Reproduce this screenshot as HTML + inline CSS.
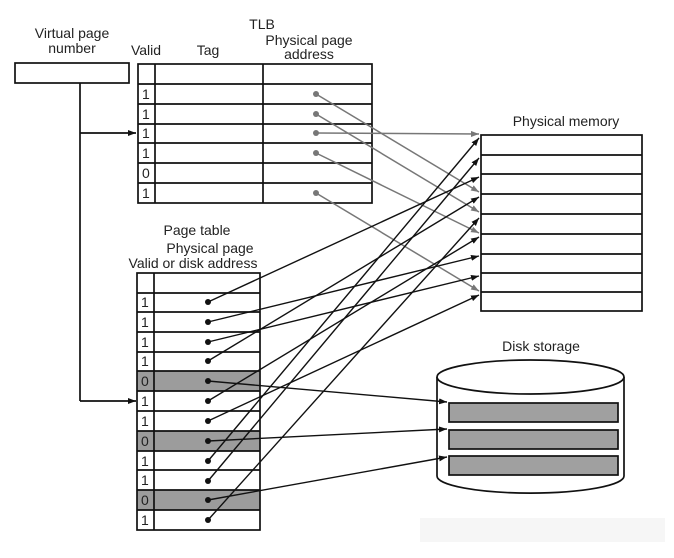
<!DOCTYPE html>
<html><head><meta charset="utf-8"><style>
html,body{margin:0;padding:0;background:#fff;}
svg{display:block;font-family:"Liberation Sans",sans-serif;}
</style></head><body>
<svg width="674" height="558" viewBox="0 0 674 558" xmlns="http://www.w3.org/2000/svg">
<defs>
<marker id="a" markerWidth="8" markerHeight="6" refX="8" refY="3" orient="auto" markerUnits="userSpaceOnUse"><path d="M0,0 L8,3 L0,6 z" fill="#111"/></marker>
<marker id="g" markerWidth="8" markerHeight="6" refX="8" refY="3" orient="auto" markerUnits="userSpaceOnUse"><path d="M0,0 L8,3 L0,6 z" fill="#777"/></marker>
</defs>
<rect x="420" y="518" width="245" height="24" fill="#f6f6f6"/>
<g font-size="14" fill="#222" text-anchor="middle">
<text x="72" y="38">Virtual page</text>
<text x="72" y="53">number</text>
<text x="262" y="29">TLB</text>
<text x="146" y="55">Valid</text>
<text x="208" y="55">Tag</text>
<text x="309" y="45">Physical page</text>
<text x="309" y="59">address</text>
<text x="566" y="126">Physical memory</text>
<text x="197" y="235">Page table</text>
<text x="210" y="253">Physical page</text>
<text x="193" y="268">Valid or disk address</text>
<text x="541" y="351">Disk storage</text>
</g>
<g stroke="#111" stroke-width="1.7" fill="none">
<rect x="15" y="63" width="114" height="20"/>
<path d="M80,83 V401"/>
<path d="M80,133 H136" marker-end="url(#a)"/>
<path d="M80,401 H136" marker-end="url(#a)"/>
<rect x="138" y="64" width="234" height="139"/>
<path d="M155,64 V203 M263,64 V203"/>
<path d="M138,84 H372 M138,104 H372 M138,124 H372 M138,143 H372 M138,163 H372 M138,183 H372"/>
</g>
<g font-size="14" fill="#222">
<text x="142" y="99">1</text><text x="142" y="119">1</text><text x="142" y="138">1</text><text x="142" y="158">1</text><text x="142" y="178">0</text><text x="142" y="198">1</text>
</g>
<g fill="#9c9c9c"><rect x="137" y="371" width="123" height="20"/><rect x="137" y="431" width="123" height="20"/><rect x="137" y="490" width="123" height="20"/></g>
<g stroke="#111" stroke-width="1.7" fill="none">
<rect x="137" y="273" width="123" height="257"/>
<path d="M154,273 V530"/>
<path d="M137,293 H260 M137,312 H260 M137,332 H260 M137,352 H260 M137,371 H260 M137,391 H260 M137,411 H260 M137,431 H260 M137,451 H260 M137,470 H260 M137,490 H260 M137,510 H260"/>
</g>
<g font-size="14" fill="#222">
<text x="141" y="307">1</text><text x="141" y="327">1</text><text x="141" y="347">1</text><text x="141" y="366">1</text><text x="141" y="386">0</text><text x="141" y="406">1</text><text x="141" y="426">1</text><text x="141" y="446">0</text><text x="141" y="466">1</text><text x="141" y="485">1</text><text x="141" y="505">0</text><text x="141" y="525">1</text>
</g>
<g stroke="#111" stroke-width="1.7" fill="none">
<rect x="481" y="135" width="161" height="176"/>
<path d="M481,155 H642 M481,174 H642 M481,194 H642 M481,214 H642 M481,234 H642 M481,254 H642 M481,273 H642 M481,292 H642"/>
</g>
<g stroke="#111" stroke-width="1.7">
<path d="M437,377 V476 A93,17 0 0 0 624,476 V377" fill="#fff"/>
<ellipse cx="530.5" cy="377" rx="93.5" ry="17" fill="#fff"/>
<rect x="449" y="403" width="169" height="19" fill="#a0a0a0"/>
<rect x="449" y="430" width="169" height="19" fill="#a0a0a0"/>
<rect x="449" y="456" width="169" height="19" fill="#a0a0a0"/>
</g>
<g stroke="#777" stroke-width="1.5" fill="none" marker-end="url(#g)">
<path d="M316,94 L479,192"/>
<path d="M316,114 L479,212"/>
<path d="M316,133 L479,134"/>
<path d="M316,153 L479,233"/>
<path d="M316,193 L479,291"/>
</g>
<g fill="#777"><circle cx="316" cy="94" r="3"/><circle cx="316" cy="114" r="3"/><circle cx="316" cy="133" r="3"/><circle cx="316" cy="153" r="3"/><circle cx="316" cy="193" r="3"/></g>
<g stroke="#111" stroke-width="1.4" fill="none" marker-end="url(#a)">
<path d="M208,302 L479,177"/>
<path d="M208,322 L479,256"/>
<path d="M208,342 L479,276"/>
<path d="M208,361 L479,197"/>
<path d="M208,401 L479,237"/>
<path d="M208,421 L479,295"/>
<path d="M208,461 L479,138"/>
<path d="M208,481 L479,158"/>
<path d="M208,520 L479,218"/>
<path d="M208,381 L447,402"/>
<path d="M208,441 L447,429"/>
<path d="M208,500 L447,457"/>
</g>
<g fill="#111">
<circle cx="208" cy="302" r="3"/><circle cx="208" cy="322" r="3"/><circle cx="208" cy="342" r="3"/><circle cx="208" cy="361" r="3"/><circle cx="208" cy="381" r="3"/><circle cx="208" cy="401" r="3"/><circle cx="208" cy="421" r="3"/><circle cx="208" cy="441" r="3"/><circle cx="208" cy="461" r="3"/><circle cx="208" cy="481" r="3"/><circle cx="208" cy="500" r="3"/><circle cx="208" cy="520" r="3"/>
</g>
</svg>
</body></html>
